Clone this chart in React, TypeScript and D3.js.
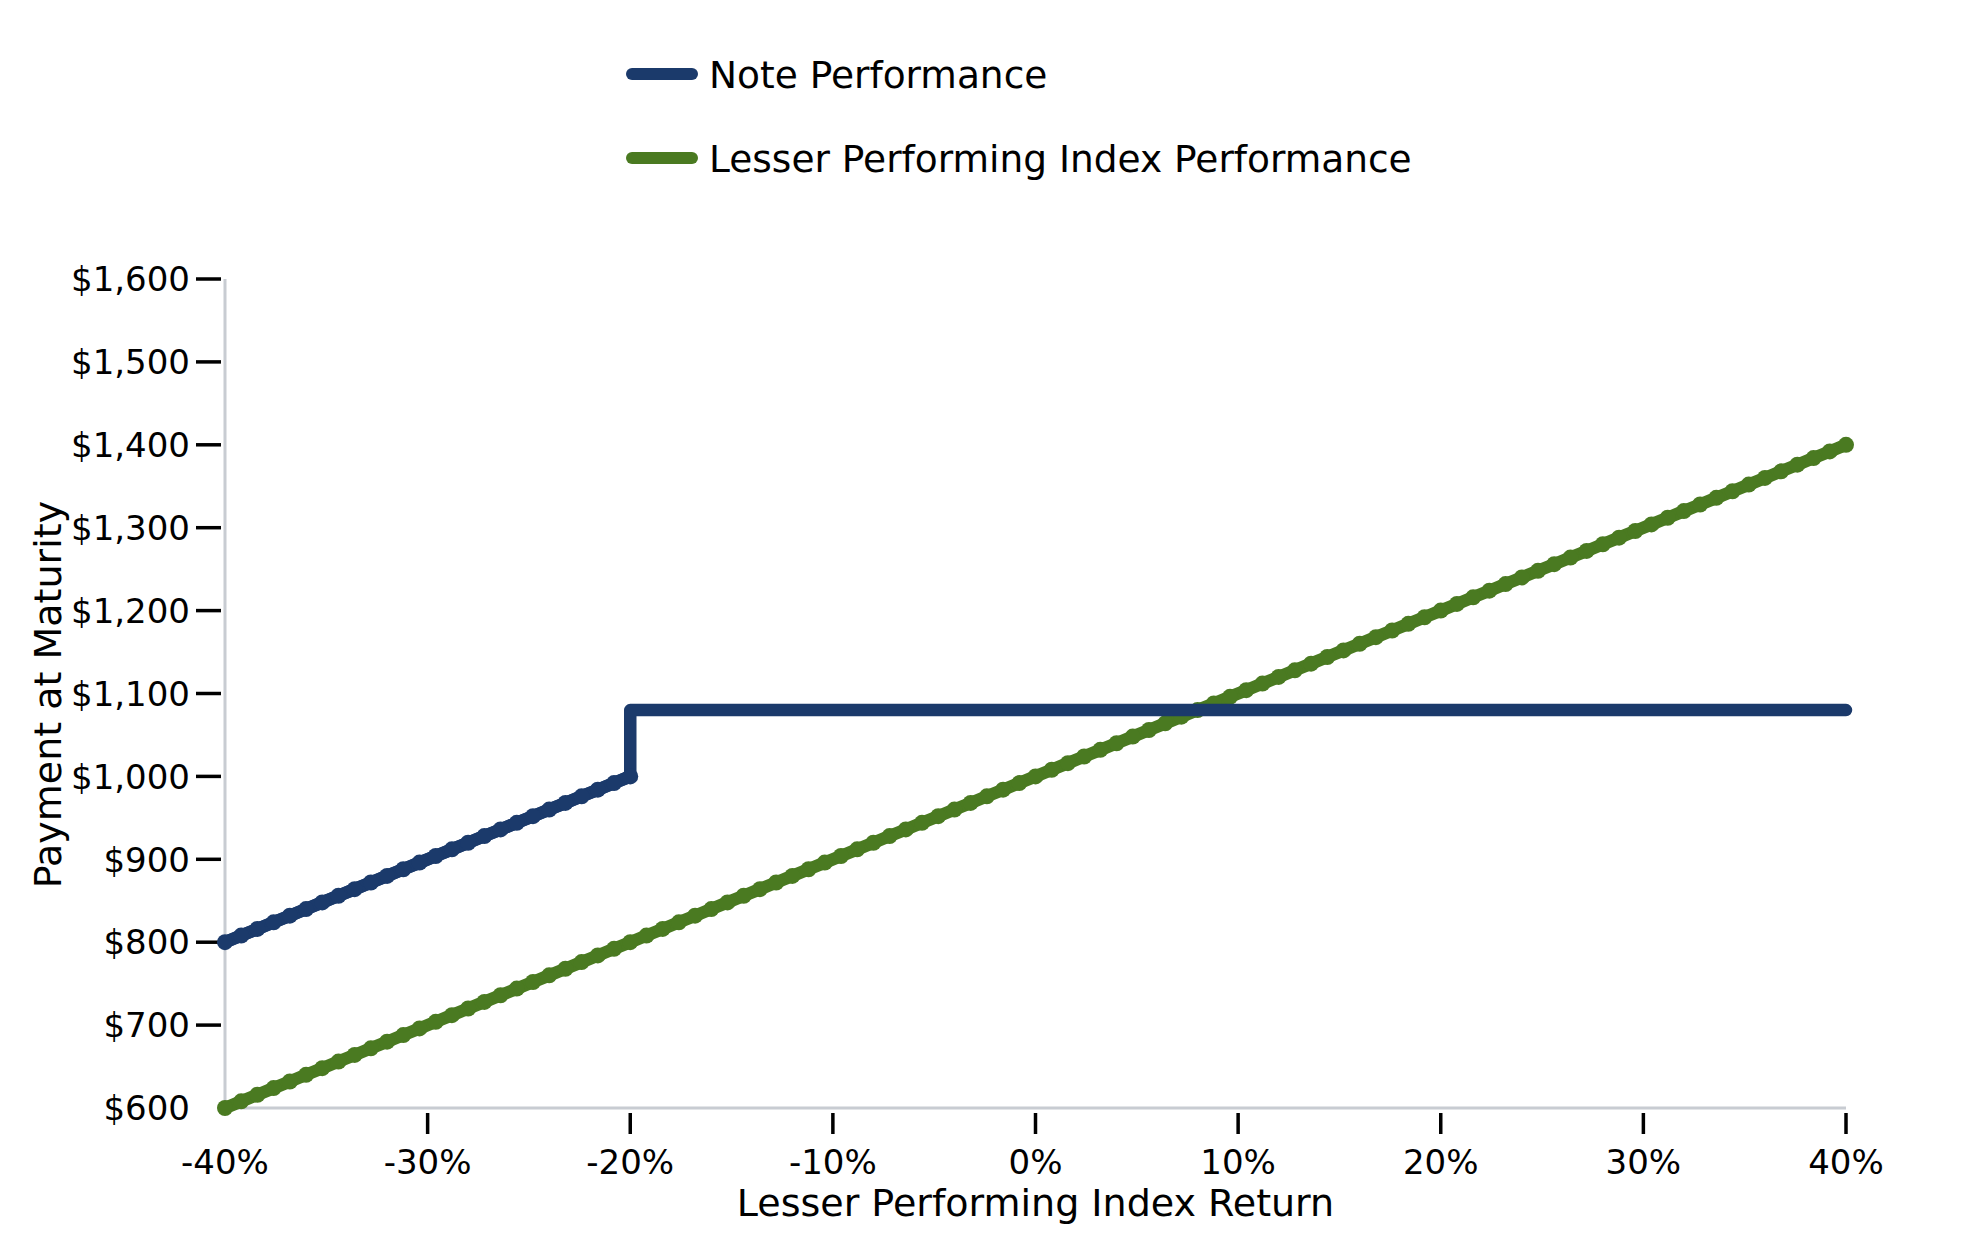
import { useRef, useEffect } from "react";
import * as d3 from "d3";

// Lesser performing index return (%), sampled every 0.8%
const returns = [
  -40, -39.2, -38.4, -37.6, -36.8, -36, -35.2, -34.4, -33.6, -32.8,
  -32, -31.2, -30.4, -29.6, -28.8, -28, -27.2, -26.4, -25.6, -24.8,
  -24, -23.2, -22.4, -21.6, -20.8, -20, -19.2, -18.4, -17.6, -16.8,
  -16, -15.2, -14.4, -13.6, -12.8, -12, -11.2, -10.4, -9.6, -8.8,
  -8, -7.2, -6.4, -5.6, -4.8, -4, -3.2, -2.4, -1.6, -0.8,
  0, 0.8, 1.6, 2.4, 3.2, 4, 4.8, 5.6, 6.4, 7.2,
  8, 8.8, 9.6, 10.4, 11.2, 12, 12.8, 13.6, 14.4, 15.2,
  16, 16.8, 17.6, 18.4, 19.2, 20, 20.8, 21.6, 22.4, 23.2,
  24, 24.8, 25.6, 26.4, 27.2, 28, 28.8, 29.6, 30.4, 31.2,
  32, 32.8, 33.6, 34.4, 35.2, 36, 36.8, 37.6, 38.4, 39.2,
  40,
];

// Lesser Performing Index Performance ($)
const indexPayment = [
  600, 608, 616, 624, 632, 640, 648, 656, 664, 672,
  680, 688, 696, 704, 712, 720, 728, 736, 744, 752,
  760, 768, 776, 784, 792, 800, 808, 816, 824, 832,
  840, 848, 856, 864, 872, 880, 888, 896, 904, 912,
  920, 928, 936, 944, 952, 960, 968, 976, 984, 992,
  1000, 1008, 1016, 1024, 1032, 1040, 1048, 1056, 1064, 1072,
  1080, 1088, 1096, 1104, 1112, 1120, 1128, 1136, 1144, 1152,
  1160, 1168, 1176, 1184, 1192, 1200, 1208, 1216, 1224, 1232,
  1240, 1248, 1256, 1264, 1272, 1280, 1288, 1296, 1304, 1312,
  1320, 1328, 1336, 1344, 1352, 1360, 1368, 1376, 1384, 1392,
  1400,
];

// Note Performance ($): buffered leg up to -20%, then digital $1,080
const noteSlopeReturns = [
  -40, -39.2, -38.4, -37.6, -36.8, -36, -35.2, -34.4, -33.6, -32.8,
  -32, -31.2, -30.4, -29.6, -28.8, -28, -27.2, -26.4, -25.6, -24.8,
  -24, -23.2, -22.4, -21.6, -20.8, -20,
];
const noteSlopePayment = [
  800, 808, 816, 824, 832, 840, 848, 856, 864, 872,
  880, 888, 896, 904, 912, 920, 928, 936, 944, 952,
  960, 968, 976, 984, 992, 1000,
];
const noteFlatReturns = [-20, 40];
const noteFlatPayment = [1080, 1080];

const xTicks = [-40, -30, -20, -10, 0, 10, 20, 30, 40];
const yTicks = [600, 700, 800, 900, 1000, 1100, 1200, 1300, 1400, 1500, 1600];

const legendItems = ["Note Performance", "Lesser Performing Index Performance"];
const NAVY = "#1b3a6b";
const GREEN = "#4a7a21";
const FONT = "'DejaVu Sans', sans-serif";

export default function App() {
  const svgRef = useRef<SVGSVGElement>(null);
  const W = 1979;
  const H = 1250;

  useEffect(() => {
    if (!svgRef.current) return;
    const svg = d3.select(svgRef.current);
    svg.selectAll("*").remove();

    const x = d3.scaleLinear().domain([-40, 40]).range([225, 1846]);
    const y = d3.scaleLinear().domain([600, 1600]).range([1108, 279]);

    // Axis spines
    svg.append("line").attr("x1", x(-40)).attr("x2", x(-40)).attr("y1", y(1600)).attr("y2", y(600))
      .attr("stroke", "#c8ccd2").attr("stroke-width", 3);
    svg.append("line").attr("x1", x(-40)).attr("x2", x(40)).attr("y1", y(600)).attr("y2", y(600))
      .attr("stroke", "#c8ccd2").attr("stroke-width", 3);

    // Y ticks + labels
    const yg = svg.append("g");
    yTicks.forEach((v) => {
      if (v !== 600) {
        yg.append("line").attr("x1", 196).attr("x2", 221).attr("y1", y(v)).attr("y2", y(v))
          .attr("stroke", "#000").attr("stroke-width", 3.5);
      }
      yg.append("text").attr("x", 190).attr("y", y(v)).attr("dy", "0.36em")
        .attr("text-anchor", "end").attr("font-family", FONT).attr("font-size", 34)
        .attr("fill", "#000").text(d3.format("$,")(v));
    });

    // X ticks + labels
    const xg = svg.append("g");
    xTicks.forEach((v) => {
      if (v !== -40) {
        xg.append("line").attr("x1", x(v)).attr("x2", x(v)).attr("y1", 1113).attr("y2", 1134)
          .attr("stroke", "#000").attr("stroke-width", 3.5);
      }
      xg.append("text").attr("x", x(v)).attr("y", 1174)
        .attr("text-anchor", "middle").attr("font-family", FONT).attr("font-size", 34)
        .attr("fill", "#000").text(`${v}%`);
    });

    // Axis titles
    svg.append("text").attr("x", (x(-40) + x(40)) / 2).attr("y", 1216)
      .attr("text-anchor", "middle").attr("font-family", FONT).attr("font-size", 38)
      .attr("fill", "#000").text("Lesser Performing Index Return");
    svg.append("text").attr("transform", `translate(61,${(y(600) + y(1600)) / 2 + 1}) rotate(-90)`)
      .attr("text-anchor", "middle").attr("font-family", FONT).attr("font-size", 38)
      .attr("fill", "#000").text("Payment at Maturity");

    const line = d3.line<[number, number]>().x((d) => x(d[0])).y((d) => y(d[1]));
    const zip = (xs: number[], ys: number[]): [number, number][] => xs.map((v, i) => [v, ys[i]]);

    const drawSeries = (pts: [number, number][], color: string, markers: boolean) => {
      const g = svg.append("g");
      g.append("path").datum(pts).attr("d", line).attr("fill", "none")
        .attr("stroke", color).attr("stroke-width", 12.5)
        .attr("stroke-linejoin", "round").attr("stroke-linecap", "round");
      if (markers) {
        g.selectAll("circle").data(pts).enter().append("circle")
          .attr("cx", (d) => x(d[0])).attr("cy", (d) => y(d[1])).attr("r", 8)
          .attr("fill", color);
      }
    };

    drawSeries(zip(returns, indexPayment), GREEN, true);
    const slope = zip(noteSlopeReturns, noteSlopePayment);
    const flat = zip(noteFlatReturns, noteFlatPayment);
    drawSeries(slope.concat(flat), NAVY, false);
    drawSeries(slope, NAVY, true);

    // Legend
    const legendColors = [NAVY, GREEN];
    legendItems.forEach((label, i) => {
      const ly = 74 + i * 84;
      svg.append("line").attr("x1", 632).attr("x2", 692).attr("y1", ly).attr("y2", ly)
        .attr("stroke", legendColors[i]).attr("stroke-width", 12).attr("stroke-linecap", "round");
      svg.append("text").attr("x", 709).attr("y", ly).attr("dy", "0.36em")
        .attr("font-family", FONT).attr("font-size", 37.5).attr("fill", "#000").text(label);
    });
  }, []);

  return (
    <svg
      ref={svgRef}
      width={W}
      height={H}
      style={{ position: "absolute", top: 0, left: 0, background: "#fff" }}
    />
  );
}
